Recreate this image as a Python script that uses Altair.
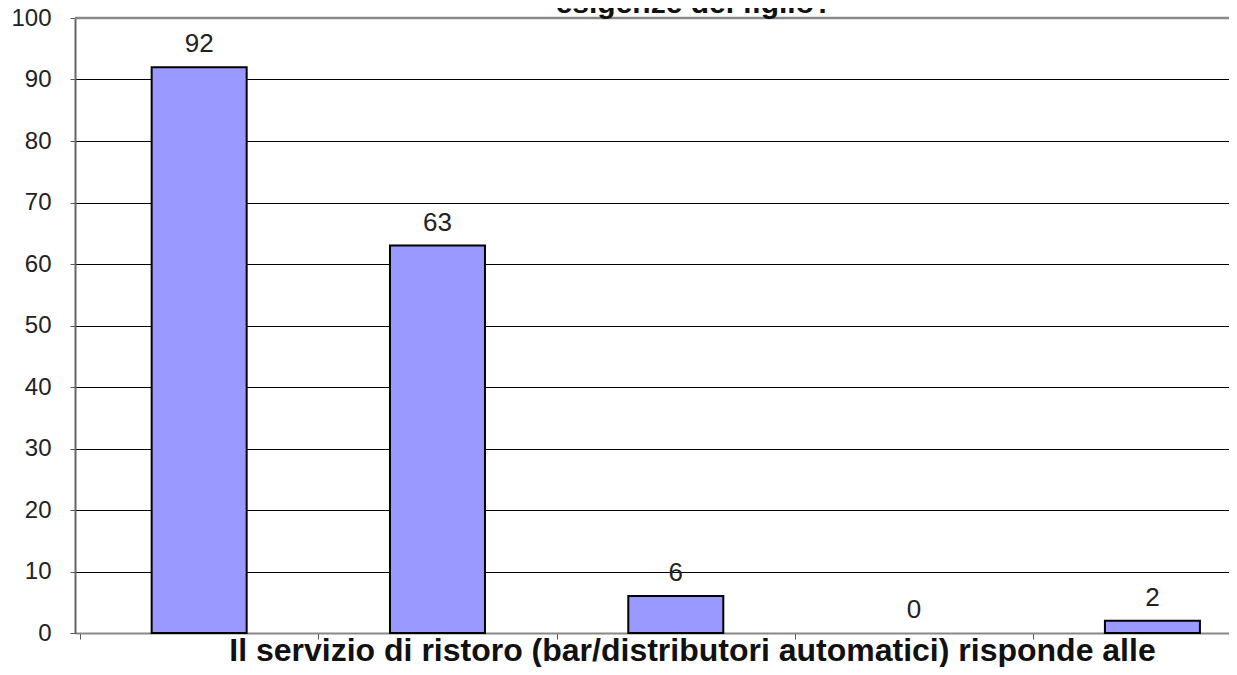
import altair as alt
import pandas as pd

# Data
categories = ["1", "2", "3", "4", "5"]
values = [92, 63, 6, 0, 2]
y_ticks = list(range(0, 101, 10))
x_title = "Il servizio di ristoro (bar/distributori automatici) risponde alle"
top_title = "esigenze del figlio?"

FONT = "Liberation Sans"
W = 1154          # visible plot width (plot continues beyond the right edge)
H = 615
BAND = 240.4      # width of one category slot in pixels
xmax = W / BAND

df = pd.DataFrame({
    "cat": categories,
    "val": values,
    "pos": [i + 0.5 for i in range(len(categories))],
})

x_scale = alt.Scale(domain=[0, xmax], nice=False, zero=False)
y_scale = alt.Scale(domain=[0, 100], nice=False)

base = alt.Chart(df)

bars = base.transform_filter(alt.datum.val > 0).mark_bar(
    size=95, color="#9999FF", stroke="black", strokeWidth=2
).encode(
    x=alt.X(
        "pos:Q",
        scale=x_scale,
        axis=alt.Axis(
            values=[0, 1, 2, 3, 4],
            labels=False,
            grid=False,
            ticks=True,
            tickSize=6,
            tickColor="#555",
            domainColor="#888",
            domainWidth=2,
            title=x_title,
            titleFont=FONT,
            titleFontSize=32,
            titleFontWeight="bold",
            titleColor="#111",
            titleX=617,
            titleY=27,
            titleAlign="center",
            titleBaseline="alphabetic",
        ),
    ),
    y=alt.Y(
        "val:Q",
        scale=y_scale,
        axis=alt.Axis(
            values=y_ticks,
            grid=True,
            gridColor="black",
            gridWidth=1,
            tickSize=5,
            tickColor="#555",
            domainColor="#666",
            domainWidth=2,
            labelFont=FONT,
            labelFontSize=24,
            labelColor="#222",
            labelPadding=19,
            title=None,
        ),
    ),
)

labels = base.mark_text(
    dy=-15, baseline="alphabetic", align="center", font=FONT, fontSize=26, color="#222"
).encode(
    x=alt.X("pos:Q", scale=x_scale),
    y=alt.Y("val:Q", scale=y_scale),
    text=alt.Text("val:Q"),
)

top_rule = alt.Chart(pd.DataFrame({"v": [100]})).mark_rule(
    color="#888", strokeWidth=2.5
).encode(y=alt.Y("v:Q", scale=y_scale))

title_text = alt.Chart(pd.DataFrame({"t": [top_title]})).mark_text(
    font=FONT, fontSize=30, fontWeight="bold", align="center", baseline="alphabetic",
    color="#111"
).encode(x=alt.value(619), y=alt.value(-5), text="t:N")

chart = alt.layer(bars, labels, top_rule, title_text).properties(
    width=W,
    height=H,
    autosize=alt.AutoSizeParams(type="none"),
    padding={"left": 67, "top": 10, "right": 0, "bottom": 34},
).configure_view(stroke=None).configure(background="white")

chart.save("out.html", embed_options={"renderer": "svg", "actions": False})
